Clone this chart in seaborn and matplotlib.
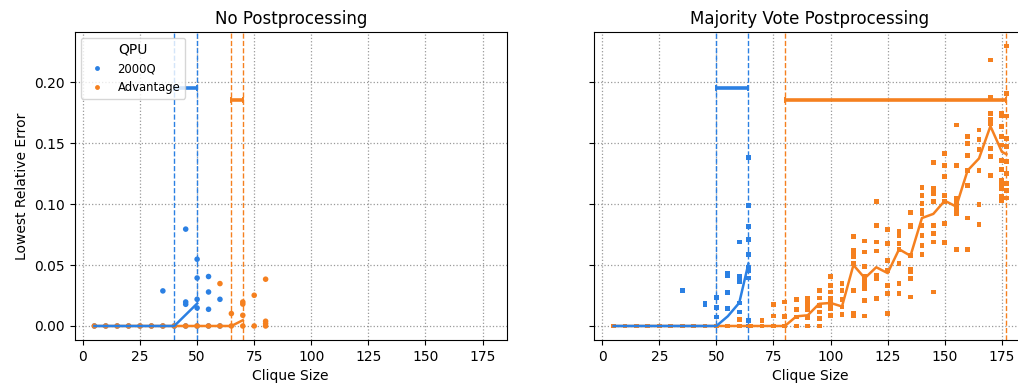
import matplotlib
matplotlib.use("Agg")
import matplotlib.pyplot as plt
import pandas as pd
import seaborn as sns
from matplotlib.lines import Line2D

# ---------------------------------------------------------------------------
# Data: lowest relative error per instance, grouped by clique size
# ---------------------------------------------------------------------------
QPUS = ["2000Q", "Advantage"]
COLORS = {"2000Q": "#2b80e3", "Advantage": "#f5801f"}

# No postprocessing -- 2000Q
raw_2000q_sizes = [5, 10, 15, 20, 25, 30, 35, 40, 45, 50, 55, 60]
raw_2000q_errors = [
    [0], [0], [0], [0], [0], [0], [0, 0.0288], [0],
    [0.0795, 0.0197, 0.0178, 0],
    [0.0548, 0.0394, 0.0219, 0.0148, 0],
    [0.0406, 0.0279, 0.0137, 0],
    [0.0219, 0],
]
# No postprocessing -- Advantage
raw_adv_sizes = [5, 10, 15, 20, 25, 30, 35, 40, 45, 50, 55, 60, 65, 70, 75, 80]
raw_adv_errors = [
    [0], [0], [0], [0], [0], [0], [0], [0], [0], [0], [0],
    [0.0348, 0],
    [0.0102, 0],
    [0.0197, 0.018, 0.0088, 0],
    [0.0252, 0],
    [0.0384, 0.0039, 0.002, 0],
]

# Majority vote postprocessing -- 2000Q
mv_2000q_sizes = [5, 10, 15, 20, 25, 30, 35, 40, 45, 50, 55, 60, 64]
mv_2000q_errors = [
    [0], [0], [0], [0], [0], [0], [0, 0.0293], [0],
    [0.0189, 0.0176, 0],
    [0.0236, 0.0154, 0.0074, 0],
    [0.043, 0.041, 0.0277, 0.0143, 0],
    [0.069, 0.0408, 0.0362, 0.0189, 0.0115, 0],
    [0.1384, 0.0992, 0.0819, 0.071, 0.0587, 0.0477, 0.0458, 0.0394, 0.0047, 0],
]
# Majority vote postprocessing -- Advantage
mv_adv_sizes = [5, 10, 15, 20, 25, 30, 35, 40, 45, 50, 55, 60, 65, 70, 75,
                80, 85, 90, 95, 100, 105, 110, 115, 120, 125, 130, 135, 140,
                145, 150, 155, 160, 165, 170, 175, 177]
mv_adv_errors = [
    [0], [0], [0], [0], [0], [0], [0], [0], [0], [0], [0],
    [0.0055, 0], [0], [0.0047, 0], [0.0178, 0.0082, 0],
    [0.0197, 0.008, 0],
    [0.0216, 0.0137, 0.0074, 0],
    [0.023, 0.0197, 0.017, 0.0134, 0.0068, 0],
    [0.0293, 0.023, 0.017, 0.0115, 0.006, 0],
    [0.0403, 0.0334, 0.0279, 0.0225, 0.0184, 0.0142, 0.0088],
    [0.0348, 0.0293, 0.0216, 0.0156, 0.0096],
    [0.0737, 0.0622, 0.0594, 0.0567, 0.0512, 0.0293, 0.0101, 0.0082],
    [0.0698, 0.0608, 0.0485, 0.0403, 0.0375, 0.0342, 0.0307, 0.0211, 0.0082],
    [0.1019, 0.0827, 0.069, 0.0616, 0.0416, 0.0389, 0.0225],
    [0.0792, 0.0676, 0.054, 0.0457, 0.0334, 0.0266, 0.0101],
    [0.0778, 0.0745, 0.0676, 0.0627, 0.0512, 0.0348, 0.0266],
    [0.0931, 0.0827, 0.0813, 0.0581, 0.0463, 0.0443, 0.0389, 0.0238],
    [0.1137, 0.1074, 0.1005, 0.095, 0.0923, 0.0827, 0.0745, 0.0663, 0.0589],
    [0.1342, 0.1128, 0.1087, 0.1019, 0.0827, 0.0759, 0.069, 0.0279],
    [0.1416, 0.132, 0.123, 0.1074, 0.1019, 0.0841, 0.0687],
    [0.1649, 0.132, 0.1046, 0.1005, 0.0964, 0.0923, 0.0627],
    [0.1553, 0.1498, 0.1402, 0.1279, 0.115, 0.0887, 0.063],
    [0.1608, 0.1531, 0.1449, 0.1274, 0.1, 0.0833],
    [0.2183, 0.1875, 0.1745, 0.1698, 0.1663, 0.1457, 0.1389, 0.1238],
    [0.1745, 0.1723, 0.1635, 0.1553, 0.1485, 0.1361, 0.1285, 0.1197,
     0.1156, 0.1128, 0.106, 0.1033],
    [0.2298, 0.1909, 0.1723, 0.1539, 0.1471, 0.1348, 0.1252, 0.117,
     0.1115, 0.105],
]

# Mean lowest relative error up to the largest solved clique size
raw_2000q_mean_sizes = [5, 10, 15, 20, 25, 30, 35, 40, 50]
raw_2000q_mean = [0, 0, 0, 0, 0, 0, 0, 0, 0.0184]
raw_adv_mean_sizes = [5, 10, 15, 20, 25, 30, 35, 40, 45, 50, 55, 60, 65, 70]
raw_adv_mean = [0, 0, 0, 0, 0, 0, 0, 0, 0, 0, 0, 0, 0, 0.0047]
mv_2000q_mean_sizes = [5, 10, 15, 20, 25, 30, 35, 40, 45, 50, 55, 60, 64]
mv_2000q_mean = [0, 0, 0, 0, 0, 0, 0, 0, 0, 0, 0.008, 0.019, 0.051]
mv_adv_mean_sizes = mv_adv_sizes
mv_adv_mean = [0, 0, 0, 0, 0, 0, 0, 0, 0, 0, 0, 0, 0, 0, 0, 0,
               0.0079, 0.0088, 0.0182, 0.0189, 0.016, 0.05, 0.0393, 0.0482,
               0.0434, 0.063, 0.0576, 0.0886, 0.092, 0.1028, 0.098, 0.1276,
               0.1375, 0.164, 0.143, 0.141]

# Clique-size ranges: last size always solved exactly -> largest size reached
raw_ranges = {"2000Q": (40, 50), "Advantage": (65, 70)}
mv_ranges = {"2000Q": (50, 64), "Advantage": (80, 177)}
RANGE_LEVEL = {"2000Q": 0.195, "Advantage": 0.1855}

XCOL, YCOL = "Clique Size", "Lowest Relative Error"


def points_frame(groups):
    rows = []
    for qpu, sizes, errors in groups:
        for size, errs in zip(sizes, errors):
            for e in errs:
                rows.append({XCOL: size, YCOL: e, "QPU": qpu})
    return pd.DataFrame(rows)


def mean_frame(groups):
    rows = []
    for qpu, sizes, means in groups:
        for size, m in zip(sizes, means):
            rows.append({XCOL: size, YCOL: m, "QPU": qpu})
    return pd.DataFrame(rows)


raw_points = points_frame([("2000Q", raw_2000q_sizes, raw_2000q_errors),
                           ("Advantage", raw_adv_sizes, raw_adv_errors)])
mv_points = points_frame([("2000Q", mv_2000q_sizes, mv_2000q_errors),
                          ("Advantage", mv_adv_sizes, mv_adv_errors)])
raw_means = mean_frame([("2000Q", raw_2000q_mean_sizes, raw_2000q_mean),
                        ("Advantage", raw_adv_mean_sizes, raw_adv_mean)])
mv_means = mean_frame([("2000Q", mv_2000q_mean_sizes, mv_2000q_mean),
                       ("Advantage", mv_adv_mean_sizes, mv_adv_mean)])

# ---------------------------------------------------------------------------
# Figure
# ---------------------------------------------------------------------------
fig = plt.figure(figsize=(10.18, 3.85), dpi=100)
ax1 = fig.add_axes([0.0734, 0.1169, 0.4244, 0.80])
ax2 = fig.add_axes([0.5835, 0.1169, 0.4244, 0.80], sharex=ax1, sharey=ax1)


def draw_panel(ax, points, means, ranges, marker, size):
    sns.scatterplot(data=points, x=XCOL, y=YCOL, hue="QPU", hue_order=QPUS,
                    palette=COLORS, marker=marker, s=size, linewidth=0,
                    legend=False, ax=ax, zorder=3)
    sns.lineplot(data=means, x=XCOL, y=YCOL, hue="QPU",
                 hue_order=QPUS[::-1], palette=COLORS, linewidth=1.8,
                 errorbar=None, legend=False, ax=ax, zorder=4)
    for qpu in QPUS:
        lo, hi = ranges[qpu]
        c = COLORS[qpu]
        for xv in (lo, hi):
            ax.axvline(xv, color=c, linestyle="--", linewidth=1.0, zorder=2)
        ax.errorbar(x=(lo + hi) / 2, y=RANGE_LEVEL[qpu], xerr=(hi - lo) / 2,
                    fmt="none", ecolor=c, elinewidth=2.6, capsize=2.5,
                    capthick=1.4, zorder=4)
    ax.grid(True, linestyle=":", color="#999999", linewidth=0.9)
    ax.set_xlabel(XCOL)


draw_panel(ax1, raw_points, raw_means, raw_ranges, "o", 16)
draw_panel(ax2, mv_points, mv_means, mv_ranges, "s", 12)

ax1.set_title("No Postprocessing", fontsize=12)
ax2.set_title("Majority Vote Postprocessing", fontsize=12)
ax1.set_ylabel(YCOL)
ax2.set_ylabel("")
ax2.tick_params(labelleft=False)

ax1.set_xticks([0, 25, 50, 75, 100, 125, 150, 175])
ax1.set_yticks([0.0, 0.05, 0.10, 0.15, 0.20])
ax1.set_xlim(-3.6, 185.6)
ax1.set_ylim(-0.0115, 0.2413)

handles = [Line2D([], [], marker="o", linestyle="", markersize=3.5,
                  color=COLORS[q], markeredgewidth=0) for q in QPUS]
ax1.legend(handles, QPUS, title="QPU", loc="upper left", fontsize="small")

fig.savefig("out.png", dpi=100)
